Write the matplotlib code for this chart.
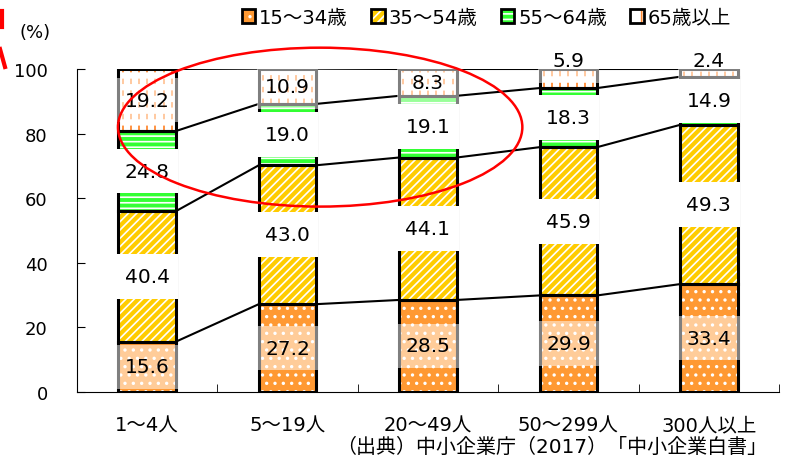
import numpy as np
import matplotlib
matplotlib.use('Agg')
import matplotlib.pyplot as plt
from matplotlib.patches import Patch, Ellipse
from matplotlib.lines import Line2D
from matplotlib.legend_handler import HandlerTuple

plt.rcParams['font.family'] = ['DejaVu Sans', 'Noto Sans CJK JP']
plt.rcParams['hatch.linewidth'] = 1.2

# Workforce age mix by company size (%)
sizes = ['1～4人', '5～19人', '20～49人', '50～299人', '300人以上']
age_groups = ['15～34歳', '35～54歳', '55～64歳', '65歳以上']
age_15_34 = [15.6, 27.2, 28.5, 29.9, 33.4]
age_35_54 = [40.4, 43.0, 44.1, 45.9, 49.3]
age_55_64 = [24.8, 19.0, 19.1, 18.3, 14.9]
age_65_up = [19.2, 10.9, 8.3, 5.9, 2.4]
series = [age_15_34, age_35_54, age_55_64, age_65_up]

fills = ['#FF9933', '#FFCC00', '#33FF33', 'white']
hatch_colors = ['white', 'white', 'white', 'white']
hatches = ['..', '////', '---', None]
box_alpha = [0.5, 1.0, 1.0, 0.5]
dash_orange = '#FF8A33'

x = np.arange(len(sizes))
w = 0.41
box_h = 13.8

fig = plt.figure(figsize=(7.92, 4.64), dpi=100)
ax = fig.add_axes([77 / 792, 71 / 464, 702 / 792, 323 / 464])

bottom = np.zeros(len(sizes))
for k, vals in enumerate(series):
    vals = np.array(vals)
    tops = bottom + vals
    # hatched fill (edgecolor doubles as hatch colour), then black outline
    ax.bar(x, vals, w, bottom=bottom, color=fills[k], edgecolor=hatch_colors[k],
           hatch=hatches[k], linewidth=0, zorder=2)
    if k == 3:
        for i in range(len(x)):
            xs = x[i] - w / 2 + (np.arange(7) + 0.5) * w / 7
            ax.vlines(xs, bottom[i], tops[i], colors=dash_orange,
                      linestyles=(0, (3, 3.5)), lw=1.3, zorder=2.5)
    ax.bar(x, vals, w, bottom=bottom, fill=False, edgecolor='black',
           linewidth=2.2, zorder=3)

    # label positions: thin top segments get the label above the bar
    label_y = bottom + vals / 2
    if k == 3:
        label_y = np.where(vals < 7, 102.5, label_y)
    ax.bar(x, box_h, w + 0.03, bottom=label_y - box_h / 2, color='white',
           alpha=box_alpha[k], linewidth=0, zorder=4)
    for i, v in enumerate(vals):
        ax.text(x[i], label_y[i], f'{v:.1f}', ha='center', va='center',
                fontsize=14.5, zorder=5)

    # lines joining the segment tops of neighbouring bars
    for i in range(len(x) - 1):
        ax.plot([x[i] + w / 2, x[i + 1] - w / 2], [tops[i], tops[i + 1]],
                color='black', lw=1.5, zorder=3)
    bottom = tops

ax.set_xlim(-0.5, len(sizes) - 0.5)
ax.set_ylim(0, 100)
ax.spines['top'].set_visible(False)
ax.spines['right'].set_visible(False)
ax.set_yticks(range(0, 101, 20))
ax.tick_params(axis='y', direction='in', length=6, pad=21, labelsize=13)
ax.set_xticks(x, sizes)
ax.tick_params(axis='x', length=0, pad=17, labelsize=14)
ax.set_xticks(np.arange(-0.5, len(sizes), 1), minor=True)
ax.tick_params(axis='x', which='minor', direction='in', length=6)

# legend with hatched swatches
handles = []
for k in range(4):
    if k == 3:
        swatch = Patch(facecolor='white', edgecolor=dash_orange, hatch='|', lw=0)
    else:
        swatch = Patch(facecolor=fills[k], edgecolor=hatch_colors[k],
                       hatch=hatches[k], lw=0)
    handles.append((swatch, Patch(fill=False, edgecolor='black', lw=2)))
fig.legend(handles, age_groups,
           handler_map={tuple: HandlerTuple(ndivide=1, pad=0)},
           loc='center', bbox_to_anchor=(0.614, 0.961), ncol=4, frameon=False,
           fontsize=14, handlelength=0.7, handleheight=0.7, handletextpad=0.2,
           columnspacing=1.2)

# red circle highlighting the small/medium firms
ax.add_patch(Ellipse((1.232, 82.0), 2.88, 49.2, fill=False, edgecolor='red',
                     lw=1.8, clip_on=False, zorder=6))
fig.add_artist(Line2D([1.5 / 792, 1.5 / 792], [1 - 12 / 464, 1 - 28 / 464],
                      color='red', lw=3))
fig.add_artist(Line2D([0, 5 / 792], [1 - 50 / 464, 1 - 68 / 464],
                      color='red', lw=3))

fig.text(35 / 792, 1 - 33 / 464, '(%)', ha='center', va='center', fontsize=13)
fig.text(336 / 792, 1 - 447 / 464, '（出典）中小企業庁（2017）「中小企業白書」',
         ha='left', va='center', fontsize=14.4)

fig.savefig('out.png', dpi=100)
